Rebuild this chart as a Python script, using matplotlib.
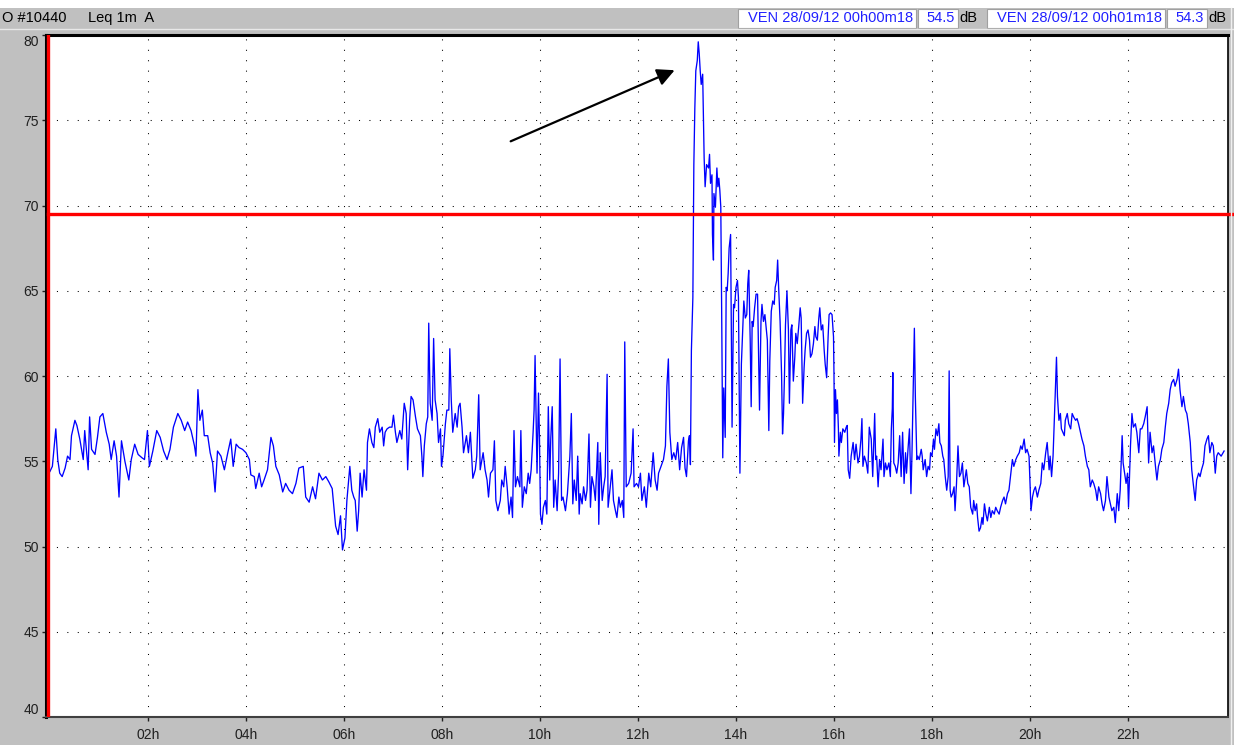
import matplotlib
matplotlib.use('Agg')
import matplotlib.pyplot as plt
from matplotlib.patches import Rectangle

# Leq 1m (dB(A)), time in hours
t_night = [0.00, 0.05, 0.12, 0.16, 0.20, 0.25, 0.31, 0.36, 0.41, 0.44, 0.51, 0.55, 0.61, 0.68, 0.71, 0.78,
           0.81, 0.85, 0.92, 0.97, 1.02, 1.08, 1.15, 1.21, 1.25, 1.31, 1.36, 1.41, 1.46, 1.53, 1.61, 1.66,
           1.73, 1.80, 1.88, 1.93, 1.99, 2.03, 2.10, 2.18, 2.25, 2.32, 2.39, 2.45, 2.52, 2.61, 2.68, 2.75,
           2.81, 2.88, 2.95, 2.98, 3.02, 3.06, 3.11, 3.15, 3.22, 3.27, 3.32, 3.37, 3.42, 3.49, 3.56, 3.63,
           3.69, 3.74, 3.80, 3.86, 3.93, 4.00, 4.07, 4.10, 4.17, 4.20, 4.27, 4.32, 4.37, 4.44, 4.51, 4.56,
           4.61, 4.68, 4.75, 4.81, 4.88, 4.95, 5.02, 5.08, 5.17, 5.22, 5.29, 5.36, 5.42, 5.49, 5.56, 5.63,
           5.69, 5.76, 5.83, 5.88, 5.93, 5.97, 6.02]
v_night = [54.4, 54.7, 56.9, 55.1, 54.3, 54.1, 54.6, 55.3, 55.1, 56.5, 57.4, 57.1, 56.3, 55.1, 56.8, 54.5,
           57.6, 55.7, 55.4, 56.4, 57.6, 57.8, 56.7, 56.0, 55.1, 56.2, 55.3, 52.9, 56.2, 55.0, 53.9, 55.1,
           56.0, 55.4, 55.2, 55.1, 56.8, 54.7, 55.6, 56.8, 56.4, 55.6, 55.1, 55.7, 57.0, 57.8, 57.4, 56.8,
           57.3, 56.8, 55.9, 55.3, 59.2, 57.4, 58.0, 56.5, 56.5, 55.5, 54.9, 53.2, 55.6, 55.3, 54.5, 55.5,
           56.3, 54.7, 56.0, 55.8, 55.7, 55.5, 55.1, 54.2, 54.1, 53.4, 54.3, 53.5, 53.9, 54.5, 56.4, 55.9,
           54.7, 54.2, 53.2, 53.7, 53.3, 53.1, 53.7, 54.6, 54.7, 52.9, 52.6, 53.5, 52.8, 54.3, 53.9, 54.1,
           53.8, 53.4, 51.2, 50.7, 51.8, 49.8, 50.5]

t_morning = [6.06, 6.12, 6.16, 6.20, 6.23, 6.27, 6.30, 6.33, 6.37, 6.41, 6.46, 6.48, 6.52, 6.57, 6.61, 6.64,
             6.69, 6.73, 6.78, 6.81, 6.84, 6.88, 6.93, 6.98, 7.01, 7.05, 7.08, 7.14, 7.18, 7.23, 7.27, 7.30,
             7.34, 7.37, 7.41, 7.46, 7.50, 7.56, 7.59, 7.61, 7.64, 7.68, 7.71, 7.73, 7.76, 7.80, 7.83, 7.86,
             7.90, 7.93, 7.97, 7.99, 8.02, 8.07, 8.10, 8.14, 8.16, 8.19, 8.22, 8.27, 8.31, 8.34, 8.37, 8.41,
             8.44, 8.50, 8.54, 8.58, 8.63, 8.68, 8.71, 8.75, 8.78, 8.84, 8.88, 8.92, 8.95, 8.99, 9.04, 9.07,
             9.10, 9.14, 9.19, 9.22, 9.26, 9.29, 9.33, 9.37, 9.41, 9.44, 9.47, 9.50, 9.54, 9.59, 9.61, 9.64,
             9.68, 9.72, 9.76, 9.79, 9.82, 9.86, 9.88, 9.90, 9.94, 9.97, 9.99, 10.01, 10.04, 10.07, 10.11, 10.14,
             10.17, 10.20, 10.22, 10.25, 10.28, 10.31, 10.35, 10.38, 10.41, 10.44, 10.47, 10.52, 10.56, 10.61, 10.64, 10.67,
             10.70, 10.74, 10.77, 10.80, 10.82, 10.86, 10.89, 10.93, 10.96, 11.00, 11.03, 11.06, 11.10, 11.13, 11.18, 11.20,
             11.23, 11.27, 11.30, 11.33, 11.37, 11.39, 11.42, 11.47, 11.50, 11.54, 11.57, 11.61, 11.64, 11.68, 11.71, 11.73,
             11.76, 11.81, 11.86, 11.90, 11.92, 11.97, 12.01, 12.05, 12.08, 12.13, 12.17, 12.22, 12.26, 12.31, 12.35, 12.39,
             12.42, 12.47, 12.52, 12.56, 12.59, 12.62, 12.65, 12.69, 12.73, 12.77, 12.81, 12.85]
v_morning = [52.7, 54.7, 53.3, 52.9, 52.7, 50.9, 52.1, 54.3, 52.9, 54.5, 53.3, 56.1, 56.9, 56.1, 55.8, 57.0,
             57.5, 56.7, 57.0, 55.9, 56.7, 56.9, 57.0, 57.0, 57.7, 56.7, 56.1, 56.8, 56.3, 58.4, 57.8, 54.5,
             57.4, 58.8, 58.6, 57.6, 56.9, 56.5, 55.3, 54.1, 55.9, 57.2, 57.6, 63.1, 58.4, 57.4, 62.2, 58.6,
             57.8, 56.1, 56.9, 54.7, 55.3, 57.2, 58.0, 58.0, 61.6, 58.6, 56.7, 57.8, 57.0, 58.2, 58.4, 57.0,
             55.5, 56.5, 55.5, 56.7, 54.0, 54.5, 55.3, 58.9, 54.5, 55.5, 54.5, 53.9, 52.9, 54.3, 54.5, 56.2,
             52.7, 52.1, 52.7, 53.9, 53.5, 54.7, 53.5, 51.9, 52.9, 51.7, 56.8, 53.5, 54.1, 53.5, 56.8, 52.3,
             53.5, 53.1, 54.3, 53.7, 54.5, 56.7, 58.0, 61.2, 54.3, 59.0, 56.3, 51.9, 51.3, 52.3, 52.7, 51.9,
             58.2, 53.9, 56.3, 58.2, 52.3, 53.9, 52.1, 54.3, 61.0, 52.7, 52.9, 52.1, 53.1, 55.3, 57.8, 52.5,
             53.9, 52.7, 55.3, 51.9, 53.1, 52.5, 53.5, 52.7, 53.3, 56.6, 52.3, 54.1, 53.5, 52.7, 56.1, 51.3,
             55.5, 52.7, 53.5, 54.1, 60.1, 52.3, 53.1, 54.5, 52.7, 52.1, 51.7, 52.9, 52.3, 52.7, 51.7, 62.0,
             53.5, 53.7, 54.3, 56.9, 53.5, 53.7, 53.5, 54.3, 52.7, 53.5, 52.3, 54.3, 53.5, 55.5, 53.9, 53.3,
             54.3, 54.7, 55.1, 55.9, 59.4, 61.0, 56.7, 55.1, 55.5, 55.1, 56.1, 54.5]

t_afternoon = [12.89, 12.93, 12.96, 12.99, 13.03, 13.05, 13.07, 13.09, 13.12, 13.14, 13.16, 13.18, 13.21, 13.23, 13.25, 13.27,
               13.29, 13.32, 13.35, 13.37, 13.40, 13.44, 13.46, 13.48, 13.51, 13.52, 13.54, 13.55, 13.58, 13.61, 13.63, 13.65,
               13.67, 13.69, 13.71, 13.73, 13.75, 13.78, 13.80, 13.82, 13.84, 13.86, 13.89, 13.92, 13.95, 13.97, 14.00, 14.03,
               14.05, 14.08, 14.11, 14.14, 14.16, 14.19, 14.22, 14.24, 14.26, 14.29, 14.31, 14.33, 14.35, 14.38, 14.41, 14.44,
               14.46, 14.48, 14.51, 14.53, 14.56, 14.59, 14.61, 14.64, 14.67, 14.69, 14.72, 14.75, 14.78, 14.80, 14.83, 14.85,
               14.87, 14.90, 14.93, 14.95, 14.97, 14.99, 15.01, 15.04, 15.07, 15.09, 15.12, 15.14, 15.17, 15.20, 15.22, 15.25,
               15.28, 15.31, 15.33, 15.36, 15.39, 15.41, 15.44, 15.47, 15.50, 15.52, 15.55, 15.58, 15.61, 15.63, 15.66, 15.69,
               15.71, 15.74, 15.77, 15.80, 15.82, 15.85, 15.88, 15.90, 15.93, 15.96, 15.99]
v_afternoon = [55.8, 56.4, 54.6, 54.1, 56.2, 56.5, 54.8, 61.5, 64.6, 72.4, 75.7, 77.9, 78.5, 79.6, 78.9, 77.9,
               77.1, 77.7, 72.8, 71.1, 72.4, 72.2, 73.0, 71.3, 71.8, 68.3, 66.8, 70.7, 69.9, 72.2, 71.1, 71.6,
               70.9, 69.9, 63.0, 55.2, 59.3, 56.4, 65.2, 65.0, 66.0, 67.5, 68.3, 57.0, 64.2, 64.0, 65.2, 65.6,
               64.6, 54.3, 60.7, 62.9, 64.4, 63.4, 63.6, 65.4, 66.2, 62.1, 58.2, 63.2, 62.9, 64.0, 64.8, 64.8,
               61.3, 58.0, 63.2, 64.2, 63.2, 63.6, 63.0, 62.1, 56.8, 60.9, 63.8, 64.4, 64.2, 65.2, 65.6, 66.8,
               65.2, 63.2, 60.1, 56.6, 57.8, 60.1, 63.0, 65.0, 62.7, 58.4, 62.7, 63.0, 59.7, 61.1, 62.5, 61.9,
               62.9, 64.0, 63.4, 58.4, 60.5, 61.5, 62.5, 62.7, 62.1, 61.1, 61.3, 61.9, 62.9, 62.3, 62.1, 63.4,
               64.0, 62.7, 63.0, 61.5, 60.7, 59.9, 62.3, 63.6, 63.7, 63.6, 62.3]

t_evening = [16.00, 16.01, 16.03, 16.05, 16.07, 16.09, 16.10, 16.13, 16.15, 16.18, 16.22, 16.25, 16.27, 16.29, 16.32, 16.35,
             16.39, 16.42, 16.45, 16.49, 16.52, 16.55, 16.57, 16.59, 16.62, 16.66, 16.69, 16.72, 16.76, 16.79, 16.83, 16.85,
             16.87, 16.90, 16.93, 16.96, 17.00, 17.02, 17.05, 17.08, 17.12, 17.15, 17.17, 17.19, 17.20, 17.22, 17.25, 17.28,
             17.31, 17.34, 17.37, 17.40, 17.43, 17.46, 17.48, 17.51, 17.54, 17.57, 17.59, 17.62, 17.64, 17.66, 17.69, 17.71,
             17.74, 17.78, 17.80, 17.82, 17.86, 17.89, 17.92, 17.95, 17.97, 18.00, 18.03, 18.05, 18.08, 18.11, 18.14, 18.16,
             18.19, 18.22, 18.24, 18.27, 18.30, 18.33, 18.35, 18.37, 18.39, 18.42, 18.45, 18.47, 18.50, 18.53, 18.56, 18.59,
             18.62, 18.65, 18.68, 18.70, 18.73, 18.76, 18.79, 18.83, 18.85, 18.88, 18.91, 18.93, 18.96, 18.99, 19.02, 19.04,
             19.07, 19.10, 19.13, 19.17, 19.20, 19.23, 19.27, 19.30, 19.33, 19.37, 19.40, 19.44, 19.47, 19.50, 19.54, 19.57,
             19.61, 19.64, 19.67, 19.71, 19.74, 19.78, 19.81, 19.84, 19.88, 19.91, 19.94, 19.98, 20.00, 20.02, 20.05, 20.08,
             20.11, 20.15, 20.18, 20.22, 20.25, 20.28, 20.32, 20.35, 20.39, 20.41, 20.44, 20.47, 20.49, 20.52, 20.54, 20.56,
             20.59, 20.62, 20.64, 20.67, 20.70, 20.72, 20.76, 20.79, 20.83, 20.86, 20.89, 20.93, 20.96, 20.99, 21.03, 21.06,
             21.10, 21.13, 21.17, 21.20, 21.23, 21.27, 21.30, 21.34, 21.37, 21.40, 21.44, 21.47, 21.50, 21.54, 21.57, 21.61,
             21.64, 21.67, 21.71, 21.74, 21.78, 21.81, 21.84, 21.88, 21.90, 21.93, 21.96, 21.99, 22.01, 22.05, 22.08, 22.11,
             22.15, 22.18, 22.22, 22.25, 22.28, 22.32, 22.35, 22.39, 22.42, 22.45, 22.49, 22.52, 22.56, 22.59, 22.62, 22.66,
             22.69, 22.73, 22.76, 22.79, 22.83, 22.86, 22.89, 22.93, 22.96, 23.00, 23.03, 23.06, 23.10, 23.13, 23.17, 23.20,
             23.23, 23.27, 23.30, 23.33, 23.37, 23.40, 23.44, 23.47, 23.50, 23.54, 23.57, 23.61, 23.64, 23.67, 23.71, 23.74,
             23.78, 23.81, 23.84, 23.90, 23.96]
v_evening = [60.0, 56.1, 59.2, 57.8, 58.6, 56.9, 55.3, 56.7, 56.1, 56.9, 56.7, 57.0, 57.1, 54.5, 54.0, 55.3,
             56.1, 55.1, 56.0, 54.9, 55.3, 56.3, 57.5, 54.7, 55.3, 54.9, 54.3, 57.0, 56.3, 54.1, 57.8, 55.1,
             55.3, 53.5, 55.1, 54.5, 56.3, 54.1, 54.9, 54.5, 54.9, 54.1, 56.9, 58.1, 60.2, 54.9, 54.7, 54.3,
             54.9, 56.5, 54.1, 56.7, 53.7, 55.5, 54.3, 55.7, 56.9, 53.1, 55.3, 59.8, 62.8, 58.8, 55.1, 55.3,
             55.1, 55.7, 55.3, 54.5, 55.1, 54.1, 54.7, 54.5, 55.5, 55.3, 56.3, 55.7, 56.9, 56.5, 57.2, 56.1,
             55.9, 55.3, 55.1, 54.1, 53.3, 54.1, 60.3, 53.3, 52.9, 53.1, 53.5, 52.1, 53.7, 55.9, 54.1, 54.3,
             54.9, 53.5, 54.1, 54.5, 53.7, 53.5, 52.3, 51.9, 52.7, 52.1, 52.5, 51.7, 50.9, 51.1, 51.7, 51.3,
             52.5, 51.9, 51.5, 52.3, 51.7, 52.1, 51.9, 52.3, 52.1, 51.9, 52.3, 52.7, 52.9, 52.5, 53.1, 53.3,
             54.3, 55.1, 54.7, 55.1, 55.3, 55.5, 55.9, 55.7, 56.3, 55.5, 55.7, 55.3, 53.7, 52.1, 52.9, 53.3,
             53.5, 52.9, 53.3, 53.7, 54.9, 54.5, 55.5, 56.1, 54.5, 55.3, 54.1, 55.3, 56.9, 59.4, 61.1, 58.8,
             57.4, 57.8, 56.9, 56.7, 56.5, 57.4, 57.8, 57.2, 56.9, 57.8, 57.6, 57.4, 57.5, 57.2, 56.7, 56.3,
             55.9, 55.3, 54.7, 54.5, 53.5, 53.9, 53.7, 53.3, 52.7, 53.5, 53.1, 52.5, 52.1, 52.7, 54.1, 52.9,
             52.5, 52.1, 52.3, 51.4, 53.1, 52.1, 53.3, 56.5, 54.9, 54.3, 53.7, 54.3, 52.3, 55.9, 57.8, 57.0,
             57.2, 56.7, 55.5, 56.9, 56.9, 57.2, 57.6, 58.2, 54.9, 56.7, 55.5, 55.9, 54.7, 53.9, 54.7, 55.1,
             55.7, 56.1, 57.0, 57.8, 58.4, 59.2, 59.6, 59.8, 59.4, 59.8, 60.4, 59.2, 58.2, 58.8, 58.0, 57.8,
             57.2, 56.1, 54.5, 53.7, 52.7, 53.9, 54.3, 54.1, 54.5, 54.9, 55.9, 56.3, 56.5, 55.5, 56.1, 55.9,
             54.3, 55.3, 55.5, 55.3, 55.6]

limit_db = 69.5
y_ticks = [40, 45, 50, 55, 60, 65, 70, 75, 80]
x_ticks = [2, 4, 6, 8, 10, 12, 14, 16, 18, 20, 22]
x_labels = ['02h', '04h', '06h', '08h', '10h', '12h', '14h', '16h', '18h', '20h', '22h']

W, H = 1234, 745
GRAY = '#c0c0c0'
plt.rcParams['font.family'] = ['Liberation Sans', 'DejaVu Sans']

fig = plt.figure(figsize=(W / 100, H / 100), dpi=100, facecolor=GRAY)


def fx(px):
    return px / W


def fy(py):
    return 1 - py / H


# white strip above the header bar
fig.patches.append(Rectangle((0, fy(8)), 1, 8 / H, transform=fig.transFigure,
                             facecolor='white', edgecolor='none'))
fig.add_artist(plt.Line2D([0, 1], [fy(29), fy(29)], color='#e8e8e8', lw=1))

ax = fig.add_axes([fx(46), fy(717), fx(1228 - 46), (717 - 35) / H])
ax.set_facecolor('white')

ax.plot(t_night + t_morning + t_afternoon + t_evening,
        v_night + v_morning + v_afternoon + v_evening,
        color='#0000ff', lw=0.95)

ax.plot([-0.03, 24.2], [limit_db, limit_db], color='red', lw=2.4, clip_on=False, zorder=5)
ax.axvline(-0.03, color='red', lw=2.4, zorder=5)

ax.annotate('', xy=(12.8, 78.0), xytext=(9.35, 73.7),
            arrowprops=dict(arrowstyle='-|>', color='black', lw=1.6, mutation_scale=26))

ax.set_xlim(-0.08, 24.04)
ax.set_ylim(40, 80)
ax.set_xticks(x_ticks)
ax.set_xticklabels(x_labels)
ax.set_yticks(y_ticks)
ax.set_yticklabels([str(v) for v in y_ticks])
ax.tick_params(axis='both', labelsize=10, length=3, width=1, colors='#202020')
ax.tick_params(axis='x', pad=5)
ax.tick_params(axis='y', pad=2)
lbl = ax.get_yticklabels()
lbl[0].set_va('bottom')
lbl[-1].set_va('top')

ax.grid(True, color='black', lw=0.75, ls=(0, (1, 9)))

for side in ['top', 'left']:
    ax.spines[side].set_linewidth(2.2)
    ax.spines[side].set_color('black')
ax.spines['right'].set_linewidth(1.2)
ax.spines['right'].set_color('black')
ax.spines['bottom'].set_linewidth(1.5)
ax.spines['bottom'].set_color('#404040')

# header bar
fig.text(fx(2), fy(18), 'O #10440', fontsize=10.5, va='center', ha='left')
fig.text(fx(88), fy(18), 'Leq 1m  A', fontsize=10.5, va='center', ha='left')

boxes = [(738, 916, 'VEN 28/09/12 00h00m18'), (918, 958, '54.5'),
         (987, 1165, 'VEN 28/09/12 00h01m18'), (1167, 1207, '54.3')]
for x0, x1, txt in boxes:
    fig.patches.append(Rectangle((fx(x0), fy(28)), fx(x1 - x0), 19 / H, transform=fig.transFigure,
                                 facecolor='white', edgecolor='#a0a0a0', lw=0.8))
    fig.text(fx(x1 - 3), fy(18.5), txt, fontsize=10.5, va='center', ha='right', color='#2020ff')
fig.text(fx(959), fy(18.5), 'dB', fontsize=10.5, va='center', ha='left')
fig.text(fx(1208), fy(18.5), 'dB', fontsize=10.5, va='center', ha='left')
fig.add_artist(plt.Line2D([fx(1231), fx(1231)], [fy(745), fy(8)], color='#f0f0f0', lw=1))

fig.savefig('out.png', dpi=100, facecolor=GRAY)
